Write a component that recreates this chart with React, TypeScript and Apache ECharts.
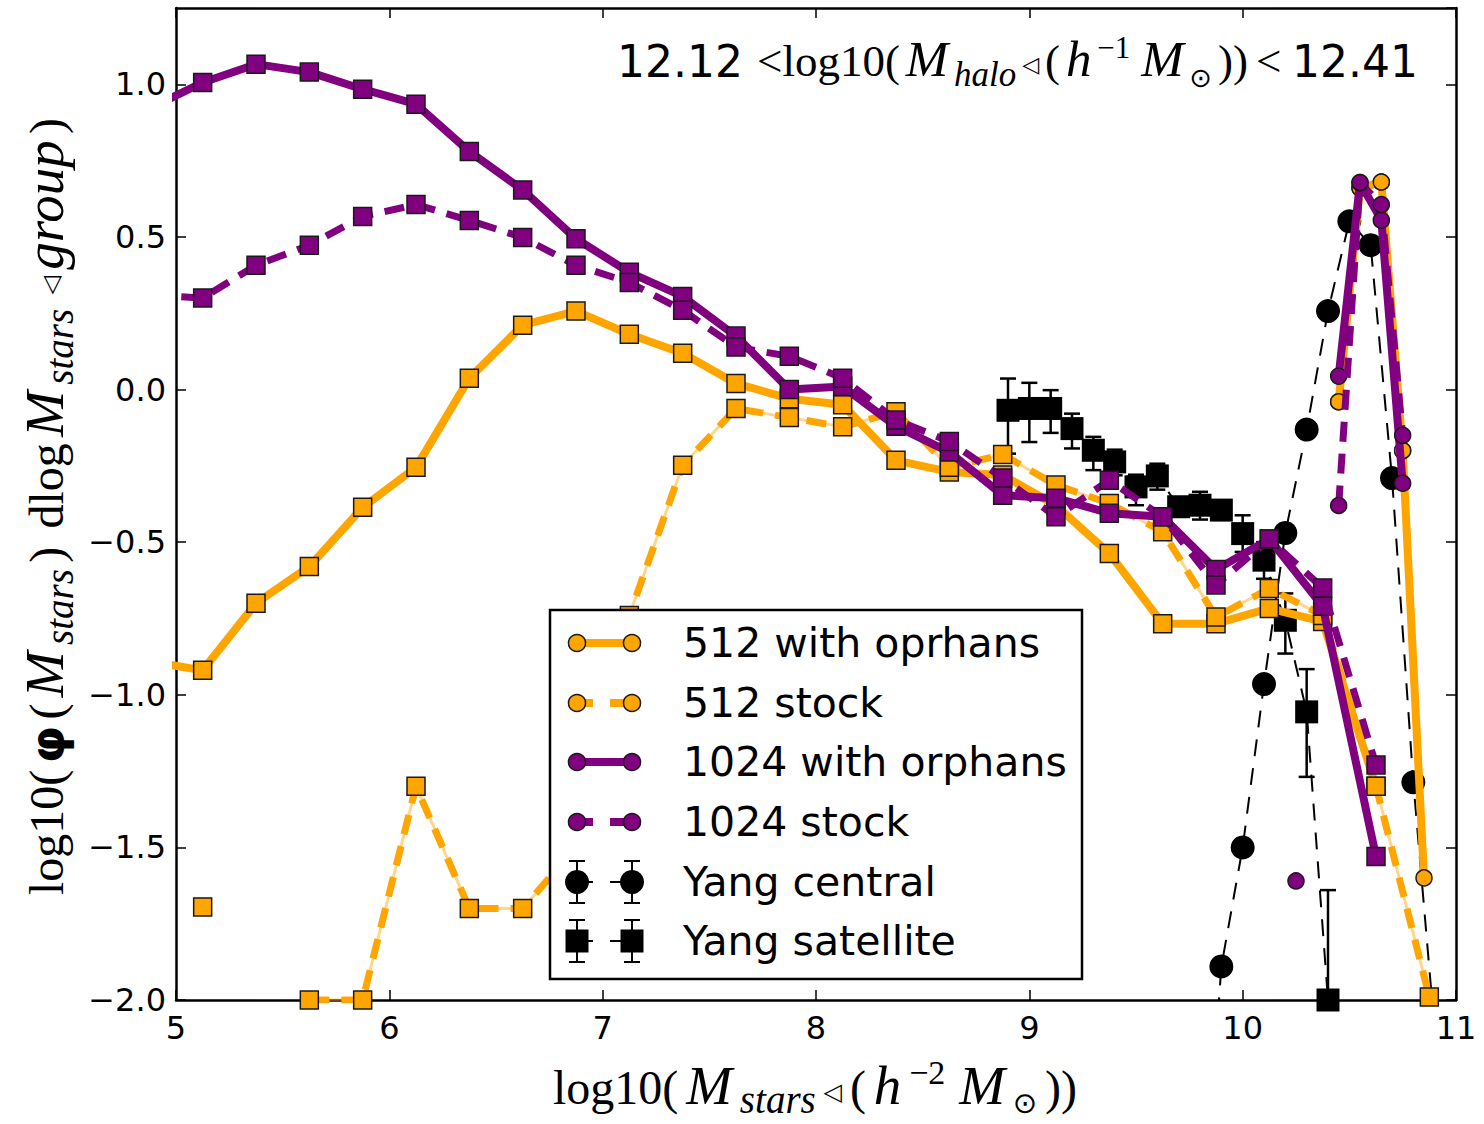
import React, { useEffect, useRef } from "react";
import * as echarts from "echarts";

// ---------------- data ----------------
const satX = [4.875, 5.125, 5.375, 5.625, 5.875, 6.125, 6.375, 6.625, 6.875, 7.125, 7.375, 7.625, 7.875, 8.125, 8.375, 8.625, 8.875, 9.125, 9.375, 9.625, 9.875, 10.125, 10.375, 10.625, 10.875];

const sat512Orphans = [-0.89, -0.92, -0.7, -0.58, -0.386, -0.255, 0.037, 0.211, 0.257, 0.181, 0.119, 0.02, -0.03, -0.05, -0.232, -0.27, -0.28, -0.38, -0.537, -0.767, -0.767, -0.717, -0.76, -1.3, null];
const sat512Stock = [null, -1.695, null, -2.0, -2.0, -1.3, -1.7, -1.7, -1.5, -0.74, -0.248, -0.062, -0.092, -0.122, -0.073, -0.255, -0.213, -0.313, -0.373, -0.466, -0.745, -0.652, -0.74, -1.3, -1.99];
const sat1024Orphans = [0.92, 1.006, 1.066, 1.04, 0.984, 0.935, 0.78, 0.654, 0.494, 0.384, 0.305, 0.175, 0.0, 0.01, -0.12, -0.205, -0.346, -0.356, -0.405, -0.417, -0.59, -0.49, -0.71, -1.53, null];
const sat1024Stock = [0.31, 0.3, 0.407, 0.473, 0.567, 0.606, 0.554, 0.498, 0.407, 0.351, 0.26, 0.139, 0.109, 0.037, -0.1, -0.17, -0.29, -0.417, -0.297, -0.417, -0.64, -0.49, -0.65, -1.23, null];

const cenX = [10.25, 10.35, 10.45, 10.55, 10.65, 10.75, 10.85];
const cen512Orphans = [null, null, -0.04, 0.66, 0.68, -0.2, -1.6];
const cen512Stock = [null, null, -0.04, 0.66, 0.68, -0.2, null];
const cen1024Orphans = [null, null, 0.044, 0.678, 0.555, -0.307, null];
const cen1024Stock = [-1.61, null, -0.38, 0.678, 0.606, -0.15, null];

const yangCenX = [9.8, 9.9, 10.0, 10.1, 10.2, 10.3, 10.4, 10.5, 10.6, 10.7, 10.8, 10.9];
const yangCenY = [-2.9, -1.89, -1.5, -0.965, -0.47, -0.131, 0.257, 0.551, 0.473, -0.29, -1.287, -2.1];

const yangSatX = [8.9, 9.0, 9.1, 9.2, 9.3, 9.4, 9.5, 9.6, 9.7, 9.8, 9.9, 10.0, 10.1, 10.2, 10.3, 10.4];
const yangSatY = [-0.068, -0.062, -0.062, -0.128, -0.199, -0.237, -0.319, -0.283, -0.384, -0.379, -0.395, -0.472, -0.559, -0.756, -1.056, -2.0];
const yangSatHi = [0.036, 0.022, -0.002, -0.079, -0.155, -0.197, -0.279, -0.243, -0.355, -0.335, -0.37, -0.412, -0.5, -0.668, -0.916, -1.64];
const yangSatLo = [-0.21, -0.172, -0.142, -0.193, -0.264, -0.281, -0.379, -0.328, -0.415, -0.426, -0.42, -0.532, -0.62, -0.865, -1.269, -2.4];

const xTicks = [5, 6, 7, 8, 9, 10, 11];
const legendLabels = ["512 with oprhans", "512 stock", "1024 with orphans", "1024 stock", "Yang central", "Yang satellite"];

// ---------------- styling ----------------
const ORANGE = "#FFA500";
const PURPLE = "#800080";
const LIGHT_ORANGE = "rgba(255,165,0,0.45)";
const SANS = '"DejaVu Sans"';
const SERIF = '"Liberation Serif"';
const DASH = [20, 12];
const THIN_DASH = [17, 12];

const pairs = (xs: number[], ys: (number | null)[]) =>
  xs.map((x, i) => [x, ys[i] === null ? "-" : ys[i]]);

type Piece = { t?: string; f?: string; s?: number; dy?: number; gap?: number };

let ctx: CanvasRenderingContext2D | null = null;
function tw(text: string, font: string) {
  if (!ctx) ctx = document.createElement("canvas").getContext("2d");
  ctx!.font = font;
  return ctx!.measureText(text).width;
}
function natural(pieces: Piece[]) {
  let w = 0;
  let n = 0;
  pieces.forEach((p) => {
    if (p.gap) w += p.gap;
    else {
      w += tw(p.t!, p.f!);
      n++;
    }
  });
  return { w, n };
}
// lays pieces out from x0; if target is given, spreads the spare width evenly between pieces
function mathEls(pieces: Piece[], x0: number, baseline: number, target?: number, z = 100) {
  const nat = natural(pieces);
  const extra = target ? Math.max(0, (target - nat.w) / Math.max(1, nat.n - 1)) : 0;
  const els: any[] = [];
  let x = x0;
  let first = true;
  pieces.forEach((p) => {
    if (p.gap) {
      x += p.gap;
      return;
    }
    if (!first) x += extra;
    first = false;
    els.push({
      type: "text",
      x,
      y: baseline + (p.dy || 0) - 0.34 * (p.s || 40),
      z,
      silent: true,
      style: {
        text: p.t,
        font: p.f,
        fill: "#000",
        align: "left",
        textAlign: "left",
        verticalAlign: "middle",
        textVerticalAlign: "middle",
      },
    });
    x += tw(p.t!, p.f!);
  });
  return els;
}

function modelLine(name: string, data: any[], color: string, dashed: boolean, symbol: string, size: number, z: number) {
  return {
    type: "line",
    name,
    data,
    symbol,
    symbolSize: size,
    z,
    silent: true,
    clip: true,
    connectNulls: false,
    lineStyle: { color, width: dashed ? 7 : 8, type: dashed ? DASH : "solid" },
    itemStyle: { color, borderColor: "#1a1a1a", borderWidth: 1.5 },
    emphasis: { disabled: true },
  };
}
function thinLine(name: string, data: any[], z: number) {
  return {
    type: "line",
    name,
    data,
    symbol: "none",
    z,
    silent: true,
    clip: true,
    lineStyle: { color: LIGHT_ORANGE, width: 3 },
    emphasis: { disabled: true },
  };
}

export default function App() {
  const ref = useRef<HTMLDivElement>(null);
  useEffect(() => {
    const chart = echarts.init(ref.current!, null, { renderer: "svg" });

    const axisLine = { show: true, onZero: false, lineStyle: { color: "#000", width: 2.5 } };
    const axisTick = { show: true, inside: true, length: 10, lineStyle: { color: "#000", width: 1.5 } };

    // ---- title ----
    const tU = 45, tI = 51, tS = 35, tP = 31;
    const titleA: Piece[] = [{ t: "12.12", f: `44px ${SANS}`, s: 44 }];
    const titleB: Piece[] = [
      { t: "<log10(", f: `${tU}px ${SERIF}`, s: tU },
      { t: "M", f: `italic ${tI}px ${SERIF}`, s: tI },
      { t: "halo", f: `italic ${tS}px ${SERIF}`, s: tS, dy: 10 },
      { t: "◁", f: `22px ${SANS}`, s: 22, dy: -4 },
      { t: "(", f: `${tU}px ${SERIF}`, s: tU },
      { t: "h", f: `italic ${tI}px ${SERIF}`, s: tI },
      { t: "−1", f: `${tP}px ${SERIF}`, s: tP, dy: -18 },
      { gap: 5 },
      { t: "M", f: `italic ${tI}px ${SERIF}`, s: tI },
      { t: "⊙", f: `27px ${SANS}`, s: 27, dy: 11 },
      { t: "))", f: `${tU}px ${SERIF}`, s: tU },
    ];
    const titleC: Piece[] = [{ t: "<", f: `${tU}px ${SERIF}`, s: tU }];
    const titleD: Piece[] = [{ t: "12.41", f: `44px ${SANS}`, s: 44 }];
    const titleEls = [
      ...mathEls(titleA, 617, 76),
      ...mathEls(titleB, 757, 76, 491),
      ...mathEls(titleC, 1256, 76),
      ...mathEls(titleD, 1418 - natural(titleD).w, 76),
    ];

    // ---- x label ----
    const xU = 48, xI = 55, xS = 39, xP = 34;
    const xPieces: Piece[] = [
      { t: "log10(", f: `${xU}px ${SERIF}`, s: xU },
      { t: "M", f: `italic ${xI}px ${SERIF}`, s: xI },
      { t: "stars", f: `italic ${xS}px ${SERIF}`, s: xS, dy: 9 },
      { t: "◁", f: `24px ${SANS}`, s: 24, dy: -4 },
      { t: "(", f: `${xU}px ${SERIF}`, s: xU },
      { t: "h", f: `italic ${xI}px ${SERIF}`, s: xI },
      { t: "−2", f: `${xP}px ${SERIF}`, s: xP, dy: -20 },
      { gap: 6 },
      { t: "M", f: `italic ${xI}px ${SERIF}`, s: xI },
      { t: "⊙", f: `29px ${SANS}`, s: 29, dy: 9 },
      { t: "))", f: `${xU}px ${SERIF}`, s: xU },
    ];
    const xEls = mathEls(xPieces, 553, 1104, 524);

    // ---- y label (rotated) ----
    const yU = 48, yI = 55, yS = 39;
    const yPieces: Piece[] = [
      { t: "log10(", f: `${yU}px ${SERIF}`, s: yU },
      { t: "φ", f: `bold ${yU}px ${SANS}`, s: yU },
      { t: "(", f: `${yU}px ${SERIF}`, s: yU },
      { t: "M", f: `italic ${yI}px ${SERIF}`, s: yI },
      { t: "stars", f: `italic ${yS}px ${SERIF}`, s: yS, dy: 10 },
      { t: ")", f: `${yU}px ${SERIF}`, s: yU },
      { gap: 12 },
      { t: "dlog", f: `${yU}px ${SERIF}`, s: yU },
      { t: "M", f: `italic ${yI}px ${SERIF}`, s: yI },
      { t: "stars", f: `italic ${yS}px ${SERIF}`, s: yS, dy: 10 },
      { gap: 8 },
      { t: "◁", f: `24px ${SANS}`, s: 24, dy: -4 },
      { t: "group", f: `italic ${yI}px ${SERIF}`, s: yI },
      { t: ")", f: `${yU}px ${SERIF}`, s: yU },
    ];
    const yEls = mathEls(yPieces, 0, 0, 777);
    const yGroup = {
      type: "group",
      x: 63,
      y: 895,
      rotation: Math.PI / 2,
      children: yEls,
    };

    // ---- legend ----
    const legEls: any[] = [];
    const lx = 550, ly = 610, lw = 532, lh = 369;
    legEls.push({
      type: "rect",
      z: 100,
      shape: { x: lx, y: ly, width: lw, height: lh },
      style: { fill: "#fff", stroke: "#000", lineWidth: 2.5 },
    });
    const rowY = [643, 703, 762, 822, 882, 941];
    const m1 = 577, m2 = 632;
    const rowDefs = [
      { color: ORANGE, dashed: false, kind: "model" },
      { color: ORANGE, dashed: true, kind: "model" },
      { color: PURPLE, dashed: false, kind: "model" },
      { color: PURPLE, dashed: true, kind: "model" },
      { color: "#000", dashed: true, kind: "yangC" },
      { color: "#000", dashed: true, kind: "yangS" },
    ];
    rowDefs.forEach((r, i) => {
      const cy = rowY[i];
      const lineW = r.kind === "model" ? 8 : 2;
      if (r.dashed) {
        legEls.push({ type: "line", z: 101, shape: { x1: m1, y1: cy, x2: 593, y2: cy }, style: { stroke: r.color, lineWidth: lineW } });
        legEls.push({ type: "line", z: 101, shape: { x1: 610, y1: cy, x2: m2, y2: cy }, style: { stroke: r.color, lineWidth: lineW } });
      } else {
        legEls.push({ type: "line", z: 101, shape: { x1: m1, y1: cy, x2: m2, y2: cy }, style: { stroke: r.color, lineWidth: lineW } });
      }
      [m1, m2].forEach((mx) => {
        if (r.kind === "model") {
          legEls.push({ type: "circle", z: 102, shape: { cx: mx, cy, r: 8.5 }, style: { fill: r.color, stroke: "#1a1a1a", lineWidth: 1.5 } });
        } else {
          legEls.push({ type: "line", z: 101, shape: { x1: mx, y1: cy - 21, x2: mx, y2: cy + 21 }, style: { stroke: "#000", lineWidth: 2 } });
          legEls.push({ type: "line", z: 101, shape: { x1: mx - 8, y1: cy - 21, x2: mx + 8, y2: cy - 21 }, style: { stroke: "#000", lineWidth: 2 } });
          legEls.push({ type: "line", z: 101, shape: { x1: mx - 8, y1: cy + 21, x2: mx + 8, y2: cy + 21 }, style: { stroke: "#000", lineWidth: 2 } });
          if (r.kind === "yangC") {
            legEls.push({ type: "circle", z: 102, shape: { cx: mx, cy, r: 12 }, style: { fill: "#000" } });
          } else {
            legEls.push({ type: "rect", z: 102, shape: { x: mx - 11.5, y: cy - 11.5, width: 23, height: 23 }, style: { fill: "#000" } });
          }
        }
      });
      legEls.push({
        type: "text",
        z: 102,
        x: 683,
        y: cy,
        style: {
          text: legendLabels[i],
          font: `41px ${SANS}`,
          fill: "#000",
          align: "left",
          textAlign: "left",
          verticalAlign: "middle",
          textVerticalAlign: "middle",
        },
      });
    });

    const yFmt = (v: number) => (v > 1.2 ? "" : (v < 0 ? "\u2212" : "") + Math.abs(v).toFixed(1));

    const option: any = {
      animation: false,
      backgroundColor: "#fff",
      grid: { left: 176, top: 8, width: 1280, height: 992, containLabel: false },
      xAxis: [
        {
          type: "value", min: 5, max: 11, interval: 1, position: "bottom",
          axisLine, axisTick, splitLine: { show: false },
          axisLabel: { color: "#000", fontFamily: "DejaVu Sans", fontSize: 32, margin: 12, formatter: (v: number) => (xTicks.includes(v) ? String(v) : "") },
        },
        {
          type: "value", min: 5, max: 11, interval: 1, position: "top",
          axisLine, axisTick, splitLine: { show: false }, axisLabel: { show: false },
        },
      ],
      yAxis: [
        {
          type: "value", min: -2, max: 1.25, interval: 0.5, position: "left",
          axisLine, axisTick, splitLine: { show: false },
          axisLabel: { color: "#000", fontFamily: "DejaVu Sans", fontSize: 32, margin: 10, showMaxLabel: false, formatter: yFmt },
        },
        {
          type: "value", min: -2, max: 1.25, interval: 0.5, position: "right",
          axisLine, axisTick, splitLine: { show: false }, axisLabel: { show: false },
        },
      ],
      series: [
        {
          type: "line", name: "Yang central", data: pairs(yangCenX, yangCenY),
          symbol: "circle", symbolSize: 24, z: 2, silent: true, clip: true,
          lineStyle: { color: "#000", width: 2, type: THIN_DASH },
          itemStyle: { color: "#000" }, emphasis: { disabled: true },
        },
        {
          type: "custom", name: "Yang satellite err", z: 2, silent: true, clip: true,
          data: yangSatX.map((x, i) => [x, yangSatY[i], yangSatLo[i], yangSatHi[i]]),
          encode: { x: 0, y: 1 },
          renderItem: (params: any, api: any) => {
            const x = api.value(0);
            const top = api.coord([x, api.value(3)]);
            const bot = api.coord([x, api.value(2)]);
            const st = { stroke: "#000", lineWidth: 2.5 };
            return {
              type: "group",
              children: [
                { type: "line", shape: { x1: top[0], y1: top[1], x2: bot[0], y2: bot[1] }, style: st },
                { type: "line", shape: { x1: top[0] - 8, y1: top[1], x2: top[0] + 8, y2: top[1] }, style: st },
                { type: "line", shape: { x1: bot[0] - 8, y1: bot[1], x2: bot[0] + 8, y2: bot[1] }, style: st },
              ],
            };
          },
        },
        {
          type: "line", name: "Yang satellite", data: pairs(yangSatX, yangSatY),
          symbol: "rect", symbolSize: 23, z: 2, silent: true, clip: true,
          lineStyle: { color: "#000", width: 2, type: THIN_DASH },
          itemStyle: { color: "#000" }, emphasis: { disabled: true },
        },
        modelLine("512 with oprhans sat", pairs(satX, sat512Orphans), ORANGE, false, "rect", 18, 3),
        modelLine("512 with oprhans cen", pairs(cenX, cen512Orphans), ORANGE, false, "circle", 16, 3),
        thinLine("512 stock thin sat", pairs(satX, sat512Stock), 4),
        modelLine("512 stock sat", pairs(satX, sat512Stock), ORANGE, true, "rect", 18, 4),
        thinLine("512 stock thin cen", pairs(cenX, cen512Stock), 4),
        modelLine("512 stock cen", pairs(cenX, cen512Stock), ORANGE, true, "circle", 16, 4),
        modelLine("1024 with orphans sat", pairs(satX, sat1024Orphans), PURPLE, false, "rect", 18, 5),
        modelLine("1024 with orphans cen", pairs(cenX, cen1024Orphans), PURPLE, false, "circle", 16, 5),
        modelLine("1024 stock sat", pairs(satX, sat1024Stock), PURPLE, true, "rect", 18, 6),
        modelLine("1024 stock cen", pairs(cenX, cen1024Stock), PURPLE, true, "circle", 16, 6),
      ],
      graphic: { elements: [...titleEls, ...xEls, yGroup, ...legEls] },
    };

    chart.setOption(option);
    return () => chart.dispose();
  }, []);

  return (
    <div
      ref={ref}
      style={{ position: "absolute", left: 0, top: 0, width: 1484, height: 1124, background: "#fff" }}
    />
  );
}
